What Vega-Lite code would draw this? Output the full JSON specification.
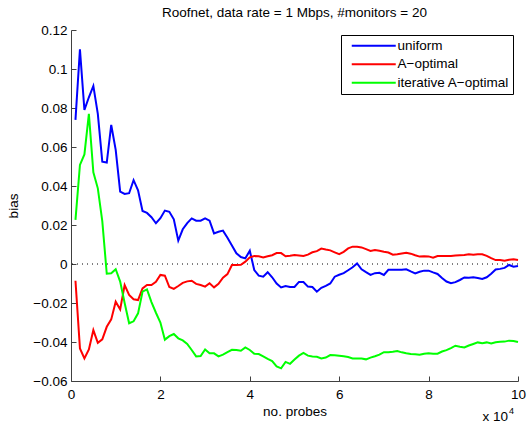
{
  "$schema": "https://vega.github.io/schema/vega-lite/v6.json",
  "width": 447,
  "height": 351,
  "autosize": {"type": "none"},
  "padding": {"left": 71, "top": 30, "right": 9, "bottom": 48},
  "background": "white",
  "title": {"text": "Roofnet, data rate = 1 Mbps, #monitors = 20", "fontSize": 13.5, "font": "Liberation Sans", "fontWeight": "normal", "color": "black", "offset": 4, "anchor": "middle"},
  "config": {
    "view": {"stroke": null},
    "axis": {"grid": false, "domainColor": "#404040", "tickColor": "#404040", "domainWidth": 1, "tickWidth": 1, "tickSize": -5, "labelFont": "Liberation Sans", "labelFontSize": 13.5, "labelColor": "black", "titleFont": "Liberation Sans", "titleFontSize": 13.5, "titleFontWeight": "normal", "titleColor": "black", "labelFlush": false, "labelOverlap": false},
    "axisX": {"labelPadding": 11, "titlePadding": 4},
    "axisY": {"labelPadding": 9, "titlePadding": 12},
    "legend": {"orient": "top-right", "offset": 5, "strokeColor": "black", "fillColor": "white", "padding": 4, "cornerRadius": 0, "labelFont": "Liberation Sans", "labelFontSize": 13.5, "labelColor": "black", "symbolType": "M0,0H8", "symbolSize": 121, "symbolStrokeWidth": 2, "labelOffset": 39, "rowPadding": 3.5}
  },
  "layer": [
    {
      "data": {"values": [{}]},
      "mark": {"type": "rule", "strokeDash": [1, 4], "color": "#000000", "strokeWidth": 1},
      "encoding": {"y": {"datum": 0, "type": "quantitative", "scale": {"domain": [-0.06, 0.12], "nice": false}}}
    },
    {
      "data": {"values": [
        {"n":0.1,"u":0.0739,"a":-0.0086,"g":0.0226},
        {"n":0.2,"u":0.1101,"a":-0.0433,"g":0.0508},
        {"n":0.3,"u":0.0790,"a":-0.0484,"g":0.0562},
        {"n":0.4,"u":0.0855,"a":-0.0438,"g":0.0770},
        {"n":0.5,"u":0.0913,"a":-0.0339,"g":0.0470},
        {"n":0.6,"u":0.0770,"a":-0.0404,"g":0.0388},
        {"n":0.7,"u":0.0525,"a":-0.0386,"g":0.0220},
        {"n":0.8,"u":0.0520,"a":-0.0322,"g":-0.0050},
        {"n":0.9,"u":0.0713,"a":-0.0284,"g":-0.0048},
        {"n":1.0,"u":0.0585,"a":-0.0193,"g":-0.0027},
        {"n":1.1,"u":0.0371,"a":-0.0233,"g":-0.0090},
        {"n":1.2,"u":0.0359,"a":-0.0108,"g":-0.0200},
        {"n":1.3,"u":0.0363,"a":-0.0159,"g":-0.0304},
        {"n":1.4,"u":0.0430,"a":-0.0181,"g":-0.0294},
        {"n":1.5,"u":0.0378,"a":-0.0185,"g":-0.0253},
        {"n":1.6,"u":0.0272,"a":-0.0125,"g":-0.0142},
        {"n":1.7,"u":0.0262,"a":-0.0108,"g":-0.0130},
        {"n":1.8,"u":0.0240,"a":-0.0108,"g":-0.0195},
        {"n":1.9,"u":0.0209,"a":-0.0091,"g":-0.0250},
        {"n":2.0,"u":0.0235,"a":-0.0056,"g":-0.0300},
        {"n":2.1,"u":0.0274,"a":-0.0060,"g":-0.0388},
        {"n":2.2,"u":0.0268,"a":-0.0118,"g":-0.0370},
        {"n":2.3,"u":0.0229,"a":-0.0128,"g":-0.0359},
        {"n":2.4,"u":0.0120,"a":-0.0113,"g":-0.0381},
        {"n":2.5,"u":0.0178,"a":-0.0097,"g":-0.0392},
        {"n":2.6,"u":0.0210,"a":-0.0089,"g":-0.0410},
        {"n":2.7,"u":0.0234,"a":-0.0086,"g":-0.0441},
        {"n":2.8,"u":0.0222,"a":-0.0102,"g":-0.0474},
        {"n":2.9,"u":0.0222,"a":-0.0108,"g":-0.0472},
        {"n":3.0,"u":0.0234,"a":-0.0116,"g":-0.0438},
        {"n":3.1,"u":0.0222,"a":-0.0099,"g":-0.0458},
        {"n":3.2,"u":0.0157,"a":-0.0120,"g":-0.0458},
        {"n":3.3,"u":0.0165,"a":-0.0102,"g":-0.0474},
        {"n":3.4,"u":0.0171,"a":-0.0070,"g":-0.0465},
        {"n":3.5,"u":0.0135,"a":-0.0052,"g":-0.0452},
        {"n":3.6,"u":0.0095,"a":-0.0005,"g":-0.0440},
        {"n":3.7,"u":0.0055,"a":-0.0005,"g":-0.0441},
        {"n":3.8,"u":0.0036,"a":-0.0004,"g":-0.0445},
        {"n":3.9,"u":0.0029,"a":0.0012,"g":-0.0428},
        {"n":4.0,"u":0.0068,"a":0.0034,"g":-0.0441},
        {"n":4.1,"u":-0.0031,"a":0.0041,"g":-0.0460},
        {"n":4.2,"u":-0.0060,"a":0.0040,"g":-0.0462},
        {"n":4.3,"u":-0.0065,"a":0.0034,"g":-0.0474},
        {"n":4.4,"u":-0.0042,"a":0.0040,"g":-0.0487},
        {"n":4.5,"u":-0.0068,"a":0.0045,"g":-0.0498},
        {"n":4.6,"u":-0.0100,"a":0.0056,"g":-0.0525},
        {"n":4.7,"u":-0.0120,"a":0.0056,"g":-0.0535},
        {"n":4.8,"u":-0.0113,"a":0.0040,"g":-0.0502},
        {"n":4.9,"u":-0.0118,"a":0.0042,"g":-0.0512},
        {"n":5.0,"u":-0.0118,"a":0.0046,"g":-0.0490},
        {"n":5.1,"u":-0.0092,"a":0.0044,"g":-0.0470},
        {"n":5.2,"u":-0.0092,"a":0.0041,"g":-0.0456},
        {"n":5.3,"u":-0.0116,"a":0.0048,"g":-0.0470},
        {"n":5.4,"u":-0.0118,"a":0.0060,"g":-0.0474},
        {"n":5.5,"u":-0.0142,"a":0.0066,"g":-0.0476},
        {"n":5.6,"u":-0.0122,"a":0.0079,"g":-0.0484},
        {"n":5.7,"u":-0.0112,"a":0.0074,"g":-0.0480},
        {"n":5.8,"u":-0.0100,"a":0.0070,"g":-0.0467},
        {"n":5.9,"u":-0.0065,"a":0.0060,"g":-0.0468},
        {"n":6.0,"u":-0.0055,"a":0.0050,"g":-0.0470},
        {"n":6.1,"u":-0.0047,"a":0.0062,"g":-0.0473},
        {"n":6.2,"u":-0.0032,"a":0.0080,"g":-0.0477},
        {"n":6.3,"u":-0.0017,"a":0.0089,"g":-0.0484},
        {"n":6.4,"u":0.0003,"a":0.0088,"g":-0.0484},
        {"n":6.5,"u":-0.0027,"a":0.0085,"g":-0.0485},
        {"n":6.6,"u":-0.0042,"a":0.0076,"g":-0.0489},
        {"n":6.7,"u":-0.0056,"a":0.0067,"g":-0.0480},
        {"n":6.8,"u":-0.0047,"a":0.0072,"g":-0.0473},
        {"n":6.9,"u":-0.0045,"a":0.0068,"g":-0.0465},
        {"n":7.0,"u":-0.0056,"a":0.0063,"g":-0.0452},
        {"n":7.1,"u":-0.0030,"a":0.0059,"g":-0.0453},
        {"n":7.2,"u":-0.0030,"a":0.0048,"g":-0.0450},
        {"n":7.3,"u":-0.0030,"a":0.0050,"g":-0.0446},
        {"n":7.4,"u":-0.0029,"a":0.0054,"g":-0.0453},
        {"n":7.5,"u":-0.0027,"a":0.0058,"g":-0.0458},
        {"n":7.6,"u":-0.0038,"a":0.0053,"g":-0.0462},
        {"n":7.7,"u":-0.0048,"a":0.0045,"g":-0.0463},
        {"n":7.8,"u":-0.0040,"a":0.0038,"g":-0.0465},
        {"n":7.9,"u":-0.0034,"a":0.0040,"g":-0.0460},
        {"n":8.0,"u":-0.0034,"a":0.0039,"g":-0.0458},
        {"n":8.1,"u":-0.0043,"a":0.0032,"g":-0.0460},
        {"n":8.2,"u":-0.0051,"a":0.0041,"g":-0.0460},
        {"n":8.3,"u":-0.0072,"a":0.0041,"g":-0.0449},
        {"n":8.4,"u":-0.0090,"a":0.0041,"g":-0.0442},
        {"n":8.5,"u":-0.0099,"a":0.0041,"g":-0.0431},
        {"n":8.6,"u":-0.0093,"a":0.0043,"g":-0.0419},
        {"n":8.7,"u":-0.0082,"a":0.0045,"g":-0.0424},
        {"n":8.8,"u":-0.0069,"a":0.0046,"g":-0.0428},
        {"n":8.9,"u":-0.0071,"a":0.0050,"g":-0.0418},
        {"n":9.0,"u":-0.0068,"a":0.0048,"g":-0.0410},
        {"n":9.1,"u":-0.0072,"a":0.0050,"g":-0.0402},
        {"n":9.2,"u":-0.0077,"a":0.0050,"g":-0.0406},
        {"n":9.3,"u":-0.0068,"a":0.0042,"g":-0.0402},
        {"n":9.4,"u":-0.0050,"a":0.0030,"g":-0.0408},
        {"n":9.5,"u":-0.0028,"a":0.0020,"g":-0.0401},
        {"n":9.6,"u":-0.0025,"a":0.0020,"g":-0.0399},
        {"n":9.7,"u":-0.0020,"a":0.0017,"g":-0.0398},
        {"n":9.8,"u":-0.0005,"a":0.0022,"g":-0.0393},
        {"n":9.9,"u":-0.0014,"a":0.0024,"g":-0.0395},
        {"n":10.0,"u":-0.0010,"a":0.0020,"g":-0.0400}
      ]},
      "transform": [{"fold": ["u", "a", "g"], "as": ["s", "b"]}],
      "mark": {"type": "line", "strokeWidth": 2},
      "encoding": {
        "x": {"field": "n", "type": "quantitative", "scale": {"domain": [0, 10], "nice": false}, "axis": {"values": [0, 2, 4, 6, 8, 10], "title": "no. probes", "labelOverlap": false, "labelExpr": "format(datum.value, '~r')"}},
        "y": {"field": "b", "type": "quantitative", "scale": {"domain": [-0.06, 0.12], "nice": false}, "axis": {"values": [-0.06, -0.04, -0.02, 0, 0.02, 0.04, 0.06, 0.08, 0.1, 0.12], "title": "bias", "labelOverlap": false, "labelBound": false, "tickCount": 10, "labelExpr": "format(datum.value, '~r')"}},
        "color": {"field": "s", "type": "nominal", "sort": ["u", "a", "g"], "scale": {"domain": ["u", "a", "g"], "range": ["#0000ff", "#ff0000", "#00ff00"]}, "legend": {"title": null, "labelExpr": "datum.value == 'u' ? 'uniform' : datum.value == 'a' ? 'A−optimal' : 'iterative A−optimal'"}}
      }
    },
    {
      "data": {"values": [{"t": "x 10"}]},
      "mark": {"type": "text", "align": "right", "baseline": "alphabetic", "dx": -10, "dy": 40, "font": "Liberation Sans", "fontSize": 13.5, "color": "black"},
      "encoding": {"x": {"datum": 10, "type": "quantitative"}, "y": {"datum": -0.06, "type": "quantitative"}, "text": {"field": "t"}}
    },
    {
      "data": {"values": [{"t": "4"}]},
      "mark": {"type": "text", "align": "left", "baseline": "alphabetic", "dx": -9, "dy": 33, "font": "Liberation Sans", "fontSize": 9, "color": "black"},
      "encoding": {"x": {"datum": 10, "type": "quantitative"}, "y": {"datum": -0.06, "type": "quantitative"}, "text": {"field": "t"}}
    }
  ]
}
